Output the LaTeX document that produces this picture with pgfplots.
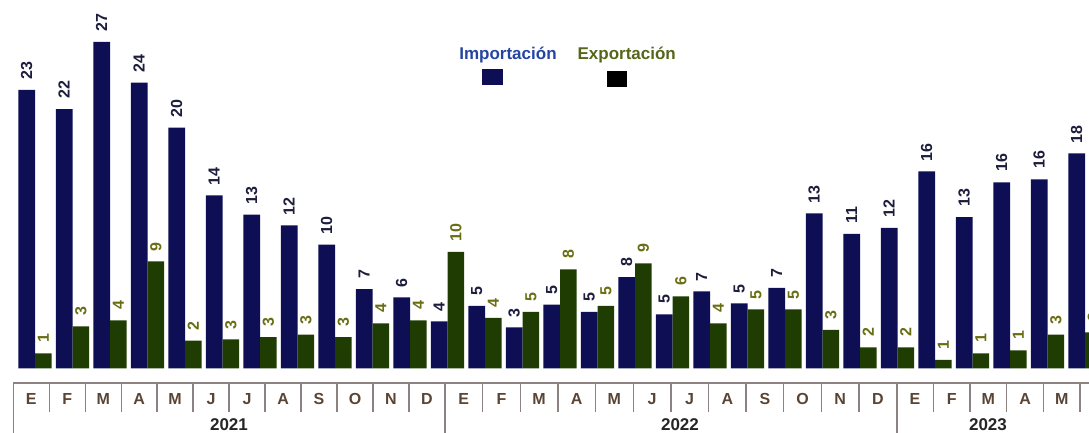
\documentclass[border=0pt]{standalone}
\usepackage{fontspec}
\setmainfont{Liberation Sans}
\usepackage{pgfplots}
\pgfplotsset{compat=1.18}

\definecolor{impbar}{HTML}{0E0E55}
\definecolor{expbar}{HTML}{1F3D02}
\definecolor{implab}{HTML}{1C1C3C}
\definecolor{explab}{HTML}{6A6E12}
\definecolor{imptxt}{HTML}{2445A0}
\definecolor{exptxt}{HTML}{55661A}
\definecolor{tabline}{HTML}{8C8282}
\definecolor{monthtxt}{HTML}{5A4535}

\begin{document}
\begin{tikzpicture}
\begin{axis}[
    name=ax,
    width=544.5pt, height=216.5pt,
    scale only axis,
    axis lines=none,
    xmin=-0.9333, xmax=28.1067,
    ymin=-5.392, ymax=30.692,
    ybar,
    bar width=0.445,
    point meta=explicit symbolic,
    nodes near coords,
    every node near coord/.append style={rotate=90, anchor=west,
        font=\bfseries\fontsize{8}{9}\selectfont, inner xsep=5pt, inner ysep=1pt},
]
% Importacion
\addplot[fill=impbar, draw=none, bar shift=-0.2225,
    every node near coord/.append style={text=implab}]
coordinates {
    (0,23.2)[23] (1,21.6)[22] (2,27.2)[27] (3,23.8)[24] (4,20.05)[20]
    (5,14.4)[14] (6,12.8)[13] (7,11.9)[12] (8,10.3)[10] (9,6.6)[7]
    (10,5.9)[6] (11,3.9)[4]
    (12,5.2)[5] (13,3.4)[3] (14,5.3)[5] (15,4.7)[5] (16,7.6)[8]
    (17,4.5)[5] (18,6.4)[7] (19,5.4)[5] (20,6.7)[7] (21,12.9)[13]
    (22,11.2)[11] (23,11.7)[12]
    (24,16.4)[16] (25,12.6)[13] (26,15.5)[16] (27,15.75)[16] (28,17.9)[18]
};
% Exportacion
\addplot[fill=expbar, draw=none, bar shift=0.2225,
    every node near coord/.append style={text=explab}]
coordinates {
    (0,1.25)[1] (1,3.5)[3] (2,4.0)[4] (3,8.9)[9] (4,2.3)[2]
    (5,2.4)[3] (6,2.6)[3] (7,2.8)[3] (8,2.6)[3] (9,3.75)[4]
    (10,4.0)[4] (11,9.7)[10]
    (12,4.2)[4] (13,4.7)[5] (14,8.25)[8] (15,5.2)[5] (16,8.75)[9]
    (17,6.0)[6] (18,3.75)[4] (19,4.9)[5] (20,4.9)[5] (21,3.2)[3]
    (22,1.75)[2] (23,1.75)[2]
    (24,0.7)[1] (25,1.25)[1] (26,1.5)[1] (27,2.8)[3] (28,3.0)[3]
};
\end{axis}

% legend and month/year table, in pixel units from the top left corner
\begin{scope}[shift={(ax.north west)}, x=0.5pt, y=-0.5pt]
    \node[font=\bfseries\fontsize{8.5}{9}\selectfont, text=imptxt] at (508,55) {Importación};
    \node[font=\bfseries\fontsize{8.5}{9}\selectfont, text=exptxt] at (626.7,55) {Exportación};
    \fill[impbar] (481.7,69.3) rectangle (502.7,85);
    \fill[black] (606.7,70.7) rectangle (627.3,86.7);

    \draw[tabline, line width=1pt] (13.3,383.3) -- (1089,383.3);
    \draw[tabline, line width=0.8pt] (13.3,383.3) -- (13.3,433)
        (445,383.3) -- (445,433) (896.7,383.3) -- (896.7,433);
    \foreach \i in {1,...,11} {
        \draw[tabline, line width=0.7pt] (13.3+35.97*\i,383.3) -- (13.3+35.97*\i,411.7);
        \draw[tabline, line width=0.7pt] (445+37.64*\i,383.3) -- (445+37.64*\i,411.7);
    }
    \foreach \i in {1,...,5} {
        \draw[tabline, line width=0.7pt] (896.7+36.67*\i,383.3) -- (896.7+36.67*\i,411.7);
    }
    \foreach \m [count=\i from 0] in {E,F,M,A,M,J,J,A,S,O,N,D} {
        \node[font=\bfseries\fontsize{8}{9}\selectfont, text=monthtxt] at (13.3+35.97*\i+17.98,399) {\m};
        \node[font=\bfseries\fontsize{8}{9}\selectfont, text=monthtxt] at (445+37.64*\i+18.82,399) {\m};
    }
    \foreach \m [count=\i from 0] in {E,F,M,A,M} {
        \node[font=\bfseries\fontsize{8}{9}\selectfont, text=monthtxt] at (896.7+36.67*\i+18.33,399) {\m};
    }
    \node[font=\bfseries\fontsize{8.5}{9}\selectfont, text=black!85] at (229,425) {2021};
    \node[font=\bfseries\fontsize{8.5}{9}\selectfont, text=black!85] at (680,425) {2022};
    \node[font=\bfseries\fontsize{8.5}{9}\selectfont, text=black!85] at (988,425) {2023};
\end{scope}

\pgfresetboundingbox
\useasboundingbox (ax.south west) rectangle (ax.north east);
\end{tikzpicture}
\end{document}
